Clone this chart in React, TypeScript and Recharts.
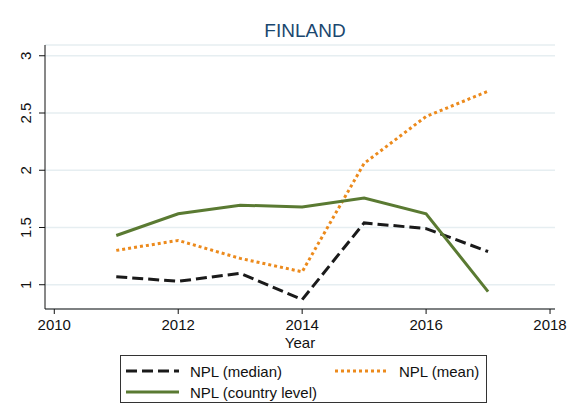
import { LineChart, Line, XAxis, YAxis, CartesianGrid } from 'recharts'

const years = [2011, 2012, 2013, 2014, 2015, 2016, 2017]
const nplMedian = [1.07, 1.03, 1.1, 0.87, 1.54, 1.49, 1.29]
const nplMean = [1.3, 1.387, 1.23, 1.113, 2.06, 2.47, 2.69]
const nplCountry = [1.43, 1.62, 1.695, 1.678, 1.757, 1.62, 0.94]

const xTicks = [2010, 2012, 2014, 2016, 2018]
const yTicks = [1, 1.5, 2, 2.5, 3]

const data = years.map((year, i) => ({
  year,
  median: nplMedian[i],
  mean: nplMean[i],
  country: nplCountry[i],
}))

const FONT = '"Liberation Sans", Arial, sans-serif'
const BLACK = '#1a1a1a'
const ORANGE = '#ec8a1c'
const GREEN = '#5a7a32'

const YTick = ({ x, y, payload }: any) => (
  <text
    x={x - 6}
    y={y}
    transform={`rotate(-90, ${x - 6}, ${y})`}
    textAnchor="middle"
    fontSize={15}
    fill="#111"
    fontFamily={FONT}
  >
    {payload.value}
  </text>
)

// legend drawn as a plain box under the plot, like the Stata one
const LegendBox = () => {
  const item = (left: number, top: number, color: string, dash: string, label: string) => (
    <div style={{ position: 'absolute', left, top, display: 'flex', alignItems: 'center', height: 18 }}>
      <svg width={56} height={6}>
        <line x1={1} y1={3} x2={54} y2={3} stroke={color} strokeWidth={3} strokeDasharray={dash} />
      </svg>
      <span style={{ marginLeft: 9, fontSize: 15, color: '#111', fontFamily: FONT, whiteSpace: 'nowrap' }}>{label}</span>
    </div>
  )
  return (
    <div
      style={{
        position: 'absolute',
        left: 120,
        top: 355,
        width: 367,
        height: 48,
        border: '1px solid #333',
        boxSizing: 'border-box',
        background: '#fff',
      }}
    >
      {item(4, 6, BLACK, '11 5', 'NPL (median)')}
      {item(213, 6, ORANGE, '3 3', 'NPL (mean)')}
      {item(4, 27, GREEN, '', 'NPL (country level)')}
    </div>
  )
}

export default function App() {
  return (
    <div style={{ position: 'absolute', left: 0, top: 0, width: 571, height: 408, background: '#fff' }}>
      <div
        style={{
          position: 'absolute',
          top: 20,
          left: 0,
          width: 610,
          textAlign: 'center',
          fontSize: 19,
          color: '#1a476f',
          fontFamily: FONT,
        }}
      >
        FINLAND
      </div>
      <LineChart
        width={571}
        height={408}
        data={data}
        margin={{ top: 45, right: 16, bottom: 59, left: 8 }}
      >
        <CartesianGrid vertical={false} stroke="#e6eef1" strokeWidth={1.5} />
        <XAxis
          dataKey="year"
          type="number"
          domain={[2009.85, 2018.08]}
          ticks={xTicks}
          allowDataOverflow
          height={40}
          stroke="#111"
          tickSize={5}
          tickMargin={5}
          tick={{ fontSize: 15, fill: '#111', fontFamily: FONT }}
          label={{ value: 'Year', position: 'insideBottom', offset: 1, fontSize: 15, fill: '#111', fontFamily: FONT }}
        />
        <YAxis
          type="number"
          domain={[0.788, 3.094]}
          ticks={yTicks}
          allowDataOverflow
          width={37}
          stroke="#111"
          tickSize={6}
          tick={<YTick />}
        />
        <Line
          dataKey="median"
          stroke={BLACK}
          strokeWidth={3}
          strokeDasharray="11 5"
          dot={false}
          isAnimationActive={false}
        />
        <Line
          dataKey="mean"
          stroke={ORANGE}
          strokeWidth={3}
          strokeDasharray="3 3"
          dot={false}
          isAnimationActive={false}
        />
        <Line
          dataKey="country"
          stroke={GREEN}
          strokeWidth={3}
          dot={false}
          isAnimationActive={false}
        />
      </LineChart>
      <LegendBox />
    </div>
  )
}
